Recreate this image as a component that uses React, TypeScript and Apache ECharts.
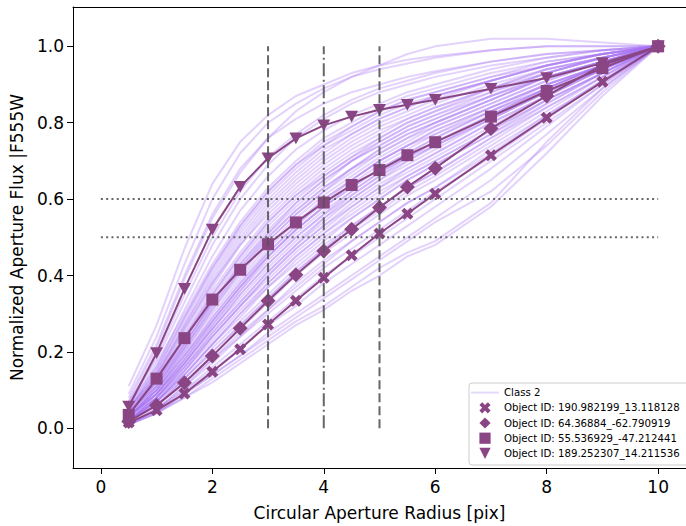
import React, { useEffect, useRef } from "react";
import * as echarts from "echarts";

// Aperture radii (pix)
const radii = [0.5, 1, 1.5, 2, 2.5, 3, 3.5, 4, 4.5, 5, 5.5, 6, 7, 8, 9, 10];

// Highlighted objects
const objX = [0.015, 0.047, 0.091, 0.148, 0.207, 0.272, 0.334, 0.394, 0.453, 0.51, 0.562, 0.614, 0.715, 0.813, 0.907, 1.0];
const objDiamond = [0.018, 0.06, 0.119, 0.189, 0.262, 0.334, 0.402, 0.464, 0.521, 0.578, 0.632, 0.681, 0.785, 0.87, 0.951, 1.0];
const objSquare = [0.035, 0.13, 0.236, 0.337, 0.415, 0.482, 0.539, 0.591, 0.637, 0.676, 0.715, 0.749, 0.816, 0.883, 0.943, 1.0];
const objTriangle = [0.057, 0.197, 0.365, 0.52, 0.632, 0.707, 0.759, 0.793, 0.816, 0.834, 0.847, 0.86, 0.889, 0.917, 0.956, 1.0];

const objNames = [
  "Object ID: 190.982199_13.118128",
  "Object ID: 64.36884_-62.790919",
  "Object ID: 55.536929_-47.212441",
  "Object ID: 189.252307_14.211536",
];

// Class 2 population curves (estimated)
const class2 = [
  [0.11, 0.27, 0.47, 0.64, 0.75, 0.82, 0.87, 0.9, 0.93, 0.95, 0.965, 0.975, 0.99, 1.0, 1.0, 1.0],
  [0.09, 0.24, 0.43, 0.6, 0.72, 0.8, 0.85, 0.89, 0.92, 0.94, 0.955, 0.97, 0.99, 1.0, 1.0, 1.0],
  [0.07, 0.21, 0.39, 0.55, 0.67, 0.76, 0.83, 0.88, 0.92, 0.95, 0.98, 1.0, 1.02, 1.02, 1.01, 1.0],
  [0.08, 0.22, 0.4, 0.56, 0.68, 0.76, 0.81, 0.85, 0.88, 0.9, 0.92, 0.935, 0.96, 0.98, 0.99, 1.0],
  [0.06, 0.19, 0.35, 0.5, 0.62, 0.71, 0.77, 0.82, 0.86, 0.89, 0.91, 0.93, 0.96, 0.98, 0.99, 1.0],
  [0.07, 0.18, 0.33, 0.48, 0.6, 0.69, 0.76, 0.81, 0.85, 0.88, 0.9, 0.92, 0.95, 0.97, 0.99, 1.0],
  [0.05, 0.16, 0.31, 0.45, 0.57, 0.66, 0.73, 0.78, 0.82, 0.85, 0.88, 0.9, 0.94, 0.97, 0.99, 1.0],
  [0.06, 0.17, 0.3, 0.43, 0.54, 0.63, 0.7, 0.76, 0.8, 0.84, 0.87, 0.89, 0.93, 0.96, 0.98, 1.0],
  [0.05, 0.15, 0.28, 0.41, 0.52, 0.61, 0.68, 0.74, 0.79, 0.83, 0.86, 0.88, 0.92, 0.95, 0.98, 1.0],
  [0.04, 0.14, 0.27, 0.39, 0.5, 0.59, 0.66, 0.72, 0.77, 0.81, 0.84, 0.87, 0.91, 0.95, 0.98, 1.0],
  [0.05, 0.13, 0.25, 0.37, 0.48, 0.57, 0.64, 0.7, 0.75, 0.79, 0.82, 0.85, 0.9, 0.94, 0.97, 1.0],
  [0.04, 0.13, 0.24, 0.36, 0.46, 0.55, 0.62, 0.68, 0.73, 0.77, 0.81, 0.84, 0.89, 0.94, 0.97, 1.0],
  [0.04, 0.12, 0.23, 0.34, 0.44, 0.53, 0.6, 0.66, 0.71, 0.76, 0.8, 0.83, 0.88, 0.93, 0.97, 1.0],
  [0.03, 0.11, 0.22, 0.33, 0.43, 0.51, 0.58, 0.64, 0.7, 0.74, 0.78, 0.81, 0.87, 0.92, 0.96, 1.0],
  [0.04, 0.11, 0.21, 0.31, 0.41, 0.5, 0.57, 0.63, 0.68, 0.73, 0.77, 0.8, 0.86, 0.92, 0.96, 1.0],
  [0.03, 0.1, 0.2, 0.3, 0.39, 0.48, 0.55, 0.61, 0.66, 0.71, 0.75, 0.79, 0.85, 0.91, 0.96, 1.0],
  [0.03, 0.1, 0.19, 0.29, 0.38, 0.46, 0.53, 0.59, 0.65, 0.7, 0.74, 0.77, 0.84, 0.9, 0.95, 1.0],
  [0.03, 0.09, 0.18, 0.27, 0.36, 0.45, 0.52, 0.58, 0.63, 0.68, 0.72, 0.76, 0.83, 0.89, 0.95, 1.0],
  [0.03, 0.09, 0.17, 0.26, 0.35, 0.43, 0.5, 0.56, 0.62, 0.67, 0.71, 0.75, 0.82, 0.89, 0.95, 1.0],
  [0.02, 0.08, 0.16, 0.25, 0.33, 0.41, 0.48, 0.54, 0.6, 0.65, 0.69, 0.73, 0.81, 0.88, 0.94, 1.0],
  [0.03, 0.08, 0.15, 0.24, 0.32, 0.4, 0.47, 0.53, 0.58, 0.63, 0.68, 0.72, 0.8, 0.87, 0.94, 1.0],
  [0.02, 0.07, 0.15, 0.23, 0.31, 0.38, 0.45, 0.51, 0.57, 0.62, 0.66, 0.7, 0.78, 0.86, 0.93, 1.0],
  [0.02, 0.07, 0.14, 0.22, 0.29, 0.37, 0.43, 0.49, 0.55, 0.6, 0.65, 0.69, 0.77, 0.85, 0.93, 1.0],
  [0.02, 0.06, 0.13, 0.21, 0.28, 0.35, 0.42, 0.48, 0.53, 0.58, 0.63, 0.67, 0.76, 0.84, 0.92, 1.0],
  [0.02, 0.06, 0.12, 0.19, 0.26, 0.33, 0.4, 0.46, 0.51, 0.56, 0.61, 0.65, 0.74, 0.83, 0.92, 1.0],
  [0.02, 0.06, 0.12, 0.18, 0.25, 0.31, 0.38, 0.44, 0.49, 0.54, 0.59, 0.63, 0.72, 0.82, 0.91, 1.0],
  [0.01, 0.05, 0.11, 0.17, 0.24, 0.3, 0.36, 0.42, 0.47, 0.52, 0.57, 0.62, 0.71, 0.81, 0.91, 1.0],
  [0.02, 0.05, 0.1, 0.16, 0.22, 0.28, 0.34, 0.4, 0.45, 0.5, 0.55, 0.6, 0.7, 0.8, 0.9, 1.0],
  [0.01, 0.05, 0.1, 0.15, 0.21, 0.27, 0.32, 0.38, 0.43, 0.48, 0.53, 0.58, 0.68, 0.79, 0.9, 1.0],
  [0.01, 0.04, 0.09, 0.14, 0.19, 0.25, 0.3, 0.35, 0.4, 0.45, 0.5, 0.55, 0.65, 0.77, 0.89, 1.0],
  [0.01, 0.04, 0.08, 0.13, 0.18, 0.23, 0.28, 0.32, 0.37, 0.42, 0.46, 0.49, 0.59, 0.75, 0.89, 1.0],
  [0.01, 0.04, 0.08, 0.12, 0.17, 0.22, 0.27, 0.31, 0.36, 0.4, 0.45, 0.48, 0.58, 0.72, 0.87, 1.0],
  [0.01, 0.04, 0.09, 0.14, 0.19, 0.24, 0.29, 0.34, 0.39, 0.44, 0.49, 0.54, 0.62, 0.74, 0.88, 1.0],
  [0.04, 0.12, 0.22, 0.33, 0.42, 0.5, 0.57, 0.63, 0.68, 0.73, 0.77, 0.8, 0.86, 0.92, 0.96, 1.0],
  [0.03, 0.1, 0.19, 0.28, 0.37, 0.45, 0.52, 0.58, 0.63, 0.68, 0.72, 0.76, 0.83, 0.89, 0.95, 1.0],
  [0.02, 0.08, 0.17, 0.26, 0.34, 0.42, 0.49, 0.55, 0.61, 0.66, 0.7, 0.74, 0.81, 0.88, 0.94, 1.0],
  [0.03, 0.09, 0.17, 0.27, 0.36, 0.44, 0.51, 0.57, 0.62, 0.67, 0.71, 0.74, 0.82, 0.89, 0.95, 1.0],
  [0.02, 0.07, 0.14, 0.22, 0.3, 0.38, 0.45, 0.51, 0.56, 0.61, 0.66, 0.7, 0.78, 0.86, 0.93, 1.0],
  [0.04, 0.12, 0.24, 0.35, 0.45, 0.54, 0.61, 0.67, 0.72, 0.76, 0.8, 0.83, 0.89, 0.93, 0.97, 1.0],
  [0.05, 0.14, 0.26, 0.38, 0.49, 0.58, 0.65, 0.71, 0.76, 0.8, 0.83, 0.86, 0.91, 0.95, 0.98, 1.0],
  [0.06, 0.16, 0.29, 0.42, 0.53, 0.62, 0.69, 0.75, 0.79, 0.83, 0.86, 0.88, 0.92, 0.96, 0.98, 1.0],
  [0.02, 0.07, 0.13, 0.2, 0.27, 0.34, 0.41, 0.47, 0.52, 0.57, 0.62, 0.66, 0.75, 0.84, 0.92, 1.0],
  [0.03, 0.09, 0.18, 0.28, 0.37, 0.46, 0.53, 0.6, 0.65, 0.7, 0.74, 0.78, 0.84, 0.9, 0.95, 1.0],
  [0.04, 0.11, 0.21, 0.32, 0.42, 0.51, 0.59, 0.65, 0.7, 0.75, 0.79, 0.82, 0.88, 0.93, 0.97, 1.0],
  [0.02, 0.08, 0.16, 0.24, 0.32, 0.4, 0.47, 0.53, 0.59, 0.64, 0.68, 0.72, 0.8, 0.87, 0.94, 1.0],
  [0.05, 0.15, 0.29, 0.42, 0.53, 0.62, 0.69, 0.74, 0.78, 0.82, 0.85, 0.87, 0.91, 0.95, 0.98, 1.0],
  [0.04, 0.13, 0.26, 0.38, 0.48, 0.56, 0.63, 0.69, 0.74, 0.78, 0.81, 0.84, 0.89, 0.94, 0.97, 1.0],
  [0.03, 0.11, 0.22, 0.33, 0.43, 0.52, 0.59, 0.65, 0.7, 0.74, 0.78, 0.81, 0.87, 0.92, 0.96, 1.0],
  [0.03, 0.1, 0.2, 0.31, 0.4, 0.49, 0.56, 0.62, 0.67, 0.72, 0.76, 0.79, 0.85, 0.91, 0.96, 1.0],
  [0.03, 0.09, 0.19, 0.29, 0.38, 0.47, 0.54, 0.6, 0.65, 0.7, 0.74, 0.78, 0.84, 0.9, 0.95, 1.0],
  [0.02, 0.09, 0.18, 0.28, 0.37, 0.45, 0.52, 0.58, 0.64, 0.69, 0.73, 0.77, 0.83, 0.9, 0.95, 1.0],
  [0.02, 0.08, 0.17, 0.26, 0.35, 0.43, 0.5, 0.56, 0.61, 0.66, 0.71, 0.75, 0.82, 0.89, 0.95, 1.0],
  [0.02, 0.08, 0.16, 0.25, 0.33, 0.41, 0.48, 0.55, 0.6, 0.65, 0.7, 0.74, 0.81, 0.88, 0.94, 1.0],
  [0.02, 0.07, 0.15, 0.24, 0.32, 0.39, 0.46, 0.52, 0.58, 0.63, 0.67, 0.71, 0.79, 0.87, 0.94, 1.0],
  [0.02, 0.07, 0.14, 0.22, 0.3, 0.37, 0.44, 0.5, 0.55, 0.6, 0.65, 0.69, 0.77, 0.86, 0.93, 1.0],
  [0.02, 0.06, 0.13, 0.2, 0.27, 0.34, 0.41, 0.47, 0.53, 0.58, 0.63, 0.67, 0.76, 0.85, 0.93, 1.0],
  [0.01, 0.05, 0.11, 0.18, 0.24, 0.31, 0.37, 0.43, 0.49, 0.54, 0.59, 0.63, 0.73, 0.82, 0.91, 1.0],
  [0.05, 0.14, 0.27, 0.4, 0.51, 0.6, 0.67, 0.73, 0.77, 0.81, 0.84, 0.87, 0.91, 0.95, 0.98, 1.0],
  [0.04, 0.12, 0.23, 0.35, 0.45, 0.54, 0.61, 0.66, 0.71, 0.75, 0.79, 0.82, 0.87, 0.93, 0.97, 1.0],
  [0.03, 0.1, 0.21, 0.32, 0.41, 0.49, 0.56, 0.62, 0.68, 0.72, 0.76, 0.8, 0.86, 0.92, 0.96, 1.0],
];

// Reference lines
const vLineX = [3, 4, 5];
const vLineTypes = ["dashed", "dashdot", "dashed"];
const vLineSpan = [0, 1];
const hLineY = [0.6, 0.5];
const hLineSpan = [0, 10];

const xTicks = [0, 2, 4, 6, 8, 10];
const yTicks = [0, 0.2, 0.4, 0.6, 0.8, 1.0];

const OBJ_COLOR = "#8a4684";
const CLASS_COLOR = "#a874f2";
const REF_COLOR = "#555555";

const SYM_X = "path://M2.5,0 L5,2.5 L7.5,0 L10,2.5 L7.5,5 L10,7.5 L7.5,10 L5,7.5 L2.5,10 L0,7.5 L2.5,5 L0,2.5 Z";
const SYM_D = "path://M5,0 L10,5 L5,10 L0,5 Z";
const SYM_S = "path://M0,0 L10,0 L10,10 L0,10 Z";
const SYM_T = "path://M0,0 L10,0 L5,9 Z";

export default function App() {
  const ref = useRef<HTMLDivElement>(null);
  useEffect(() => {
    if (!ref.current) return;
    const chart = echarts.init(ref.current, null, { renderer: "svg" });
    const font = "DejaVu Sans";

    const classSeries = class2.map((arr) => ({
      type: "line",
      name: "Class 2",
      data: radii.map((x, i) => [x, arr[i]]),
      symbol: "none",
      showSymbol: false,
      silent: true,
      lineStyle: { color: CLASS_COLOR, width: 2, opacity: 0.32 },
      itemStyle: { color: CLASS_COLOR },
      z: 1,
    }));

    const objects = [
      { data: objX, sym: SYM_X, size: 12 },
      { data: objDiamond, sym: SYM_D, size: 15 },
      { data: objSquare, sym: SYM_S, size: 12 },
      { data: objTriangle, sym: SYM_T, size: 13 },
    ];
    const objSeries = objects.map((o, k) => ({
      type: "line",
      name: objNames[k],
      data: radii.map((x, i) => [x, o.data[i]]),
      symbol: o.sym,
      symbolSize: o.size,
      symbolKeepAspect: true,
      showAllSymbol: true,
      silent: true,
      lineStyle: { color: OBJ_COLOR, width: 2 },
      itemStyle: { color: OBJ_COLOR },
      z: 3,
    }));

    const dashFor = (t: string) =>
      t === "dashdot" ? [13, 3.5, 2, 3.5] : [9, 4];
    const vSeries = vLineX.map((x, k) => ({
      type: "line",
      data: vLineSpan.map((y) => [x, y]),
      symbol: "none",
      silent: true,
      lineStyle: { color: REF_COLOR, width: 2, type: dashFor(vLineTypes[k]), opacity: 0.9 },
      z: 5,
    }));
    const hSeries = hLineY.map((y) => ({
      type: "line",
      data: hLineSpan.map((x) => [x, y]),
      symbol: "none",
      silent: true,
      lineStyle: { color: REF_COLOR, width: 2, type: [2, 3.3], opacity: 0.9 },
      z: 5,
    }));

    chart.setOption({
      animation: false,
      backgroundColor: "#fff",
      grid: { left: 72, top: 7, width: 640, height: 463, show: false },
      xAxis: [
        {
          type: "value",
          min: -0.5,
          max: 10.5,
          name: "Circular Aperture Radius [pix]",
          nameLocation: "middle",
          nameGap: 36,
          nameTextStyle: { fontFamily: font, fontSize: 17, color: "#000" },
          splitLine: { show: false },
          axisLine: { show: true, onZero: false, lineStyle: { color: "#000", width: 1 } },
          axisTick: { show: true, length: 6, customValues: xTicks, lineStyle: { color: "#000" } },
          axisLabel: { customValues: xTicks, fontFamily: font, fontSize: 17, color: "#000", margin: 10 },
        },
        {
          type: "value",
          position: "top",
          min: -0.5,
          max: 10.5,
          splitLine: { show: false },
          axisLine: { show: true, onZero: false, lineStyle: { color: "#000", width: 1 } },
          axisTick: { show: false },
          axisLabel: { show: false },
        },
      ],
      yAxis: {
        type: "value",
        min: -0.104,
        max: 1.103,
        name: "Normalized Aperture Flux |F555W",
        nameLocation: "middle",
        nameGap: 48,
        nameTextStyle: { fontFamily: font, fontSize: 17, color: "#000" },
        splitLine: { show: false },
        axisLine: { show: true, onZero: false, lineStyle: { color: "#000", width: 1 } },
        axisTick: { show: true, length: 6, customValues: yTicks, lineStyle: { color: "#000" } },
        axisLabel: {
          customValues: yTicks,
          fontFamily: font,
          fontSize: 17,
          color: "#000",
          margin: 9,
          formatter: (v: number) => v.toFixed(1),
        },
      },
      legend: {
        orient: "vertical",
        left: 469,
        top: 383,
        padding: [4, 10, 6, 1],
        itemWidth: 28,
        itemHeight: 14,
        itemGap: 4,
        backgroundColor: "#fff",
        borderColor: "#cccccc",
        borderWidth: 1,
        borderRadius: 3,
        textStyle: { fontFamily: font, fontSize: 10.2, color: "#000" },
        selectedMode: false,
        data: [
          {
            name: "Class 2",
            itemStyle: { opacity: 0 },
            lineStyle: { color: "#e6dafb", opacity: 1, width: 2 },
          },
          ...objNames.map((n) => ({ name: n, lineStyle: { opacity: 0 } })),
        ],
      },
      series: [...classSeries, ...objSeries, ...vSeries, ...hSeries],
    });
    return () => chart.dispose();
  }, []);
  return (
    <div
      ref={ref}
      style={{ position: "absolute", left: 0, top: 0, width: 686, height: 526 }}
    />
  );
}
